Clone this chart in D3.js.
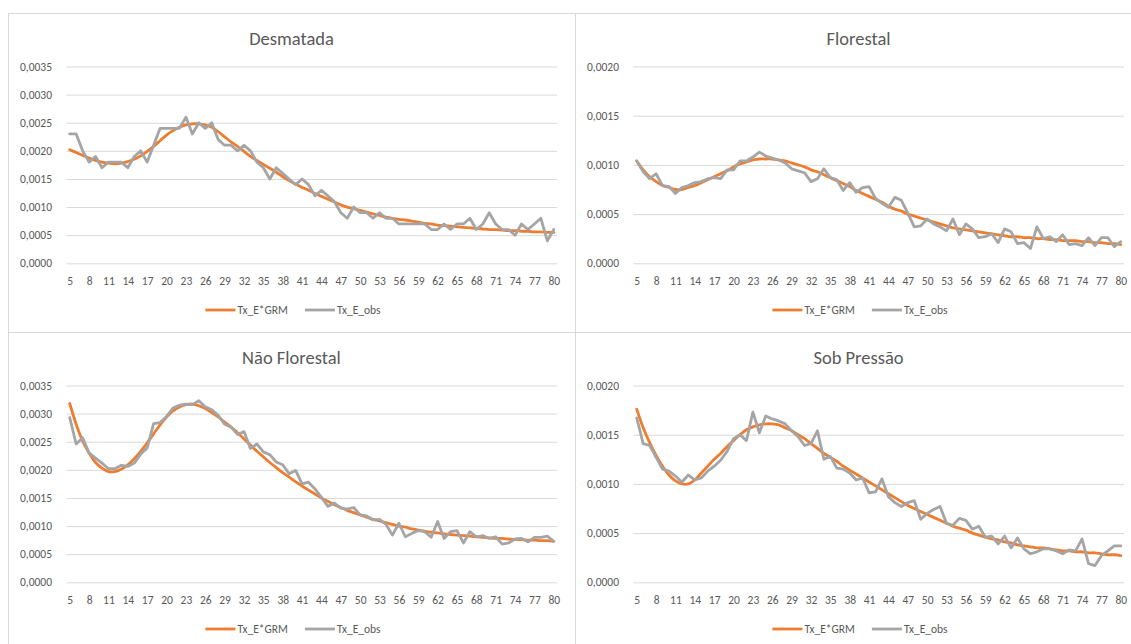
<!DOCTYPE html>
<html>
<head>
<meta charset="utf-8">
<script src="https://cdn.jsdelivr.net/npm/d3@7"></script>
<style>
  html, body { margin: 0; padding: 0; background: #fff; }
  svg { display: block; }
  text { font-family: Calibri, Carlito, Lato, sans-serif; fill: #595959; }
</style>
</head>
<body>
<svg id="chart" width="1131" height="644"></svg>
<script>
// Ages (categories on the x axis)
const ages = [5,6,7,8,9,10,11,12,13,14,15,16,17,18,19,20,21,22,23,24,25,26,27,28,29,30,
  31,32,33,34,35,36,37,38,39,40,41,42,43,44,45,46,47,48,49,50,51,52,53,54,55,56,57,58,59,60,
  61,62,63,64,65,66,67,68,69,70,71,72,73,74,75,76,77,78,79,80];
const xTickLabels = [5,8,11,14,17,20,23,26,29,32,35,38,41,44,47,50,53,56,59,62,65,68,71,74,77,80];

const yTicksHigh = [0, 0.0005, 0.0010, 0.0015, 0.0020, 0.0025, 0.0030, 0.0035];
const yTicksLow = [0, 0.0005, 0.0010, 0.0015, 0.0020];

const seriesNames = ["Tx_E*GRM", "Tx_E_obs"];
const panelTitles = ["Desmatada", "Florestal", "Não Florestal", "Sob Pressão"];

// Desmatada
const desmatadaModel = [.00202,.00197,.00192,.00187,.00183,.00180,.00178,.00177,.00178,.00181,
  .00185,.00191,.00199,.00208,.00218,.00228,.00236,.00242,.00246,.00248,
  .00248,.00246,.00242,.00234,.00225,.00216,.00208,.00199,.00190,.00183,
  .00176,.00169,.00162,.00154,.00147,.00141,.00135,.00130,.00124,.00119,
  .00114,.00109,.00104,.00100,.00097,.00094,.00091,.00088,.00085,.00082,
  .00080,.00078,.00077,.00075,.00073,.00071,.00070,.00068,.00067,.00066,
  .00065,.00064,.00063,.00062,.00061,.00060,.00060,.00059,.00058,.00058,
  .00057,.00057,.00056,.00056,.00055,.00055];
const desmatadaObs = [.0023,.0023,.0020,.0018,.0019,.0017,.0018,.0018,.0018,.0017,
  .0019,.0020,.0018,.0021,.0024,.0024,.0024,.0024,.0026,.0023,
  .0025,.0024,.0025,.0022,.0021,.0021,.0020,.0021,.0020,.0018,
  .0017,.0015,.0017,.0016,.0015,.0014,.0015,.0014,.0012,.0013,
  .0012,.0011,.0009,.0008,.0010,.0009,.0009,.0008,.0009,.0008,
  .0008,.0007,.0007,.0007,.0007,.0007,.0006,.0006,.0007,.0006,
  .0007,.0007,.0008,.0006,.0007,.0009,.0007,.0006,.0006,.0005,
  .0007,.0006,.0007,.0008,.0004,.0006];

// Florestal
const florestalModel = [.00104,.00095,.00088,.00083,.00079,.00077,.00075,.00075,.00077,.00079,
  .00082,.00085,.00088,.00091,.00094,.00098,.00101,.00103,.00105,.00106,
  .00106,.00106,.00105,.00104,.00102,.00100,.00098,.00095,.00093,.00090,
  .00087,.00084,.00081,.00078,.00074,.00071,.00068,.00065,.00062,.00058,
  .00055,.00053,.00050,.00048,.00046,.00044,.00042,.00040,.00038,.00036,
  .00035,.00034,.00033,.00032,.00031,.00030,.00029,.00028,.00027,.00027,
  .00026,.00026,.00025,.00025,.00024,.00024,.00023,.00023,.00023,.00022,
  .00022,.00021,.00021,.00020,.00020,.00019];
const florestalObs = [.00104,.00093,.00086,.00091,.00079,.00078,.00071,.00077,.00079,.00082,
  .00083,.00086,.00087,.00086,.00095,.00095,.00104,.00104,.00108,.00113,
  .00109,.00107,.00105,.00102,.00096,.00094,.00092,.00083,.00086,.00096,
  .00087,.00085,.00074,.00082,.00072,.00077,.00078,.00066,.00061,.00057,
  .00067,.00064,.00051,.00037,.00038,.00045,.00040,.00037,.00033,.00045,
  .00029,.00040,.00035,.00026,.00027,.00030,.00021,.00035,.00032,.00020,
  .00021,.00015,.00037,.00025,.00027,.00022,.00029,.00019,.00020,.00018,
  .00026,.00018,.00026,.00026,.00017,.00022];

// Não Florestal
const naoFlorestalModel = [.00318,.00281,.00251,.00230,.00213,.00203,.00197,.00197,.00201,.00209,
  .00220,.00233,.00248,.00264,.00280,.00294,.00305,.00312,.00316,.00317,
  .00314,.00309,.00302,.00294,.00285,.00276,.00266,.00255,.00244,.00233,
  .00223,.00213,.00204,.00195,.00187,.00179,.00171,.00164,.00157,.00150,
  .00144,.00138,.00133,.00128,.00124,.00120,.00116,.00112,.00109,.00106,
  .00103,.00100,.00098,.00095,.00093,.00091,.00089,.00088,.00086,.00085,
  .00084,.00083,.00082,.00081,.00080,.00079,.00078,.00078,.00077,.00076,
  .00076,.00075,.00075,.00074,.00074,.00073];
const naoFlorestalObs = [.00293,.00246,.00257,.00230,.00221,.00212,.00202,.00202,.00208,.00206,
  .00212,.00228,.00239,.00282,.00284,.00295,.00310,.00315,.00317,.00316,
  .00323,.00312,.00307,.00297,.00281,.00276,.00263,.00268,.00238,.00246,
  .00232,.00227,.00214,.00209,.00193,.00199,.00175,.00178,.00166,.00151,
  .00135,.00141,.00132,.00130,.00133,.00120,.00118,.00111,.00112,.00103,
  .00084,.00105,.00081,.00087,.00092,.00090,.00080,.00108,.00078,.00090,
  .00092,.00070,.00090,.00081,.00083,.00078,.00081,.00068,.00070,.00077,
  .00078,.00072,.00080,.00080,.00082,.00073];

// Sob Pressão
const sobPressaoModel = [.00176,.00157,.00142,.00129,.00118,.00109,.00103,.00100,.00100,.00104,
  .00111,.00118,.00125,.00131,.00138,.00144,.00150,.00155,.00158,.00160,
  .00161,.00161,.00160,.00157,.00154,.00150,.00146,.00141,.00136,.00131,
  .00127,.00123,.00118,.00114,.00110,.00106,.00102,.00098,.00094,.00090,
  .00086,.00082,.00078,.00075,.00072,.00069,.00066,.00063,.00060,.00057,
  .00055,.00053,.00050,.00048,.00046,.00044,.00043,.00041,.00040,.00038,
  .00037,.00036,.00035,.00035,.00034,.00033,.00032,.00032,.00031,.00031,
  .00030,.00030,.00029,.00028,.00028,.00027];
const sobPressaoObs = [.00167,.00141,.00139,.00127,.00115,.00113,.00108,.00102,.00109,.00104,
  .00106,.00113,.00118,.00124,.00133,.00146,.00150,.00144,.00173,.00152,
  .00169,.00166,.00164,.00161,.00154,.00148,.00139,.00141,.00154,.00125,
  .00128,.00116,.00115,.00111,.00104,.00106,.00091,.00092,.00105,.00087,
  .00081,.00077,.00081,.00083,.00064,.00070,.00074,.00077,.00060,.00058,
  .00065,.00063,.00054,.00057,.00046,.00047,.00039,.00047,.00035,.00045,
  .00034,.00029,.00031,.00034,.00034,.00032,.00029,.00033,.00032,.00044,
  .00019,.00017,.00027,.00032,.00037,.00037];

const panels = [
  { title: panelTitles[0], ticks: yTicksHigh, model: desmatadaModel, obs: desmatadaObs },
  { title: panelTitles[1], ticks: yTicksLow, model: florestalModel, obs: florestalObs },
  { title: panelTitles[2], ticks: yTicksHigh, model: naoFlorestalModel, obs: naoFlorestalObs },
  { title: panelTitles[3], ticks: yTicksLow, model: sobPressaoModel, obs: sobPressaoObs }
];

// Panel frames and plot area inside each frame
const origins = [[8, 13], [575, 13], [8, 332], [575, 332]];
const W = 567, H = 319;
const plot = { left: 58.5, right: 549, top: 53.5, bottom: 250.3 };
const colors = { model: "#ED7D31", obs: "#A5A5A5", grid: "#D9D9D9" };
const tickFont = 11.5, titleFont = 18.5;

const ptBR = d3.formatLocale({ decimal: ",", thousands: ".", grouping: [3], currency: ["R$", ""] });
const fmt = ptBR.format(".4f");

const svg = d3.select("#chart");

panels.forEach((p, i) => {
  const g = svg.append("g").attr("transform", `translate(${origins[i][0]},${origins[i][1]})`);

  g.append("rect")
    .attr("x", 0.5).attr("y", 0.5)
    .attr("width", W).attr("height", H)
    .attr("fill", "#fff").attr("stroke", colors.grid).attr("stroke-width", 1);

  const x = d3.scalePoint().domain(ages).range([plot.left, plot.right]).padding(0.5);
  const y = d3.scaleLinear().domain([0, d3.max(p.ticks)]).range([plot.bottom, plot.top]);

  // value axis with horizontal gridlines
  g.append("g")
    .attr("transform", `translate(${plot.left},0)`)
    .call(d3.axisLeft(y).tickValues(p.ticks).tickFormat(fmt)
      .tickSize(-(plot.right - plot.left)).tickPadding(14.5))
    .call(a => a.select(".domain").remove())
    .call(a => a.selectAll("line").attr("stroke", colors.grid).attr("stroke-width", 1))
    .call(a => a.selectAll("text").attr("font-size", tickFont));

  // category axis labels
  g.append("g")
    .attr("transform", `translate(0,${plot.bottom})`)
    .call(d3.axisBottom(x).tickValues(xTickLabels).tickSize(0).tickPadding(13.5))
    .call(a => a.select(".domain").remove())
    .call(a => a.selectAll("text").attr("font-size", tickFont));

  // title
  g.append("text")
    .attr("x", W / 2).attr("y", 25)
    .attr("text-anchor", "middle")
    .attr("dominant-baseline", "central")
    .attr("font-size", titleFont)
    .text(p.title);

  const modelLine = d3.line().x((d, j) => x(ages[j])).y(d => y(d)).curve(d3.curveCatmullRom);
  const obsLine = d3.line().x((d, j) => x(ages[j])).y(d => y(d));

  g.append("path").datum(p.model)
    .attr("d", modelLine)
    .attr("fill", "none").attr("stroke", colors.model).attr("stroke-width", 2.8)
    .attr("stroke-linejoin", "round").attr("stroke-linecap", "round");

  g.append("path").datum(p.obs)
    .attr("d", obsLine)
    .attr("fill", "none").attr("stroke", colors.obs).attr("stroke-width", 2.8)
    .attr("stroke-linejoin", "round").attr("stroke-linecap", "round");

  // legend, centred under the plot
  const lg = g.append("g");
  const keyW = 30, keyGap = 2, itemGap = 17;
  const items = [
    { name: seriesNames[0], color: colors.model },
    { name: seriesNames[1], color: colors.obs }
  ];
  let cx = 0;
  items.forEach((it, k) => {
    lg.append("line")
      .attr("x1", cx).attr("x2", cx + keyW).attr("y1", 0).attr("y2", 0)
      .attr("stroke", it.color).attr("stroke-width", 2.8);
    const t = lg.append("text")
      .attr("x", cx + keyW + keyGap).attr("y", 0).attr("dy", "0.35em")
      .attr("font-size", tickFont).text(it.name);
    cx += keyW + keyGap + t.node().getComputedTextLength() + (k < items.length - 1 ? itemGap : 0);
  });
  lg.attr("transform", `translate(${W / 2 + 1.5 - cx / 2},297)`);
});
</script>
</body>
</html>
